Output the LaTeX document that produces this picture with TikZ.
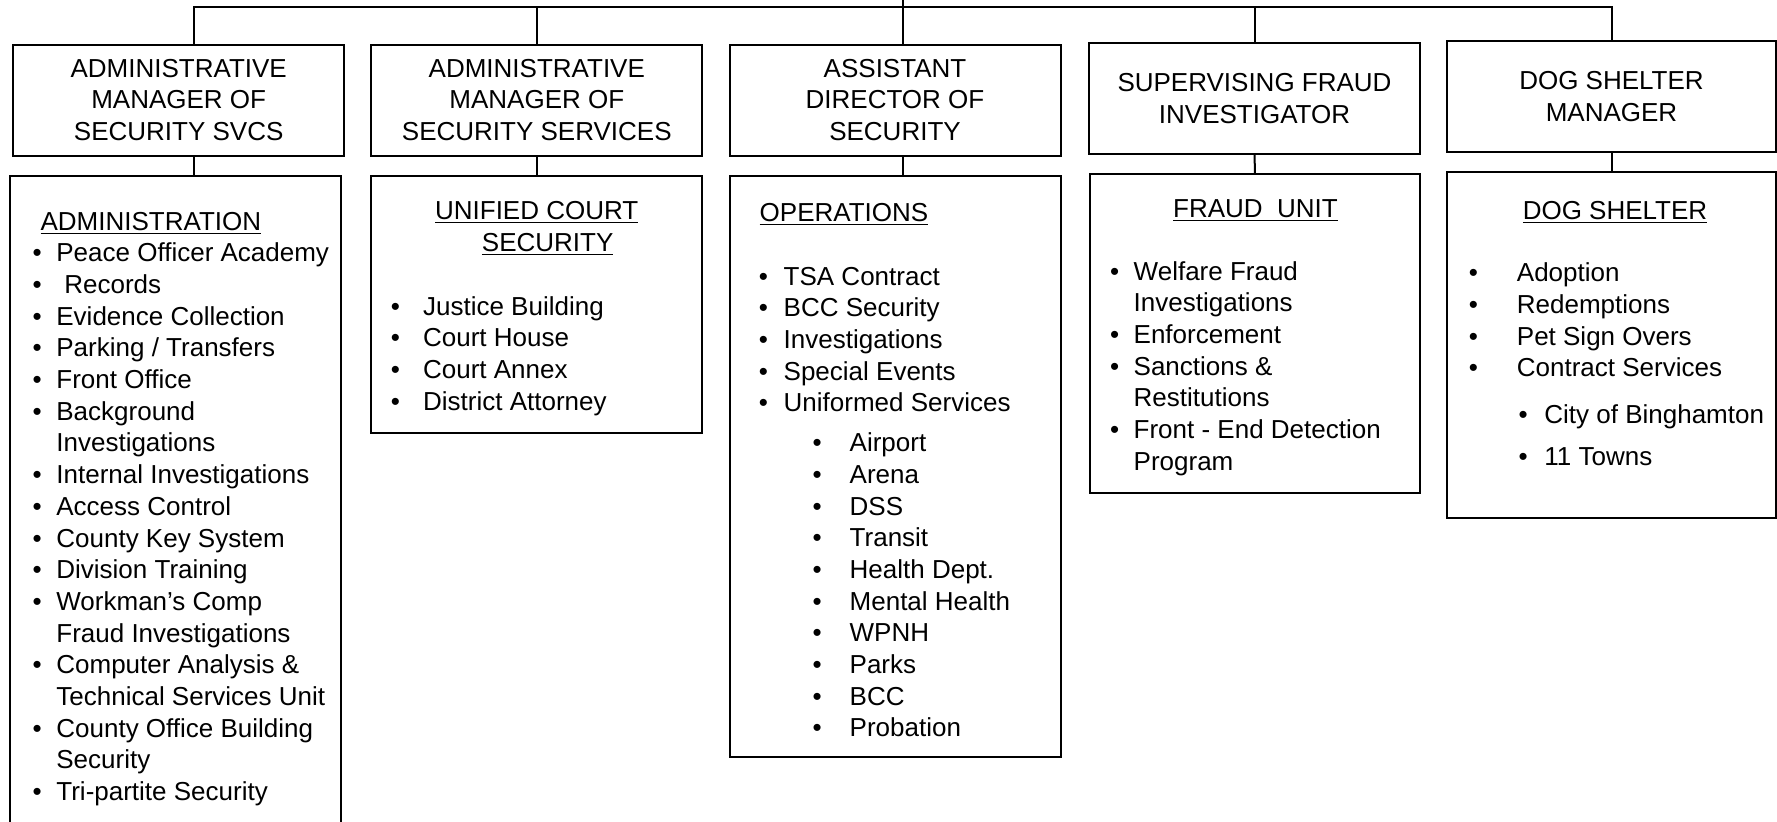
\documentclass[tikz,border=0pt]{standalone}
\usepackage{fontspec}
\setmainfont{Liberation Sans}
\usetikzlibrary{positioning,calc}

\newcommand{\itm}[2]{\makebox[#1][l]{\textbullet}#2}

\begin{document}
\begin{tikzpicture}[x=0.5pt,y=-0.5pt,font=\fontsize{13pt}{15.85pt}\selectfont,
    post/.style={draw,line width=1pt,inner sep=0pt,outer sep=0pt,align=center,minimum width=165.5pt,minimum height=55.5pt},
    unit/.style={draw,line width=1pt,inner sep=0pt,outer sep=0pt,minimum width=165.5pt},
    title/.style={anchor=base,align=center,inner sep=0pt},
    list/.style={anchor=base west,align=left,inner sep=0pt},
    link/.style={line width=1pt}]
      \useasboundingbox (0,0) rectangle (1777,821);
      \clip (0,0) rectangle (1777,821);
      \coordinate (top) at (903.4,0);
      \coordinate (bus) at (903.4,7);
      \coordinate (d1) at (193.5,7);
      \node[post] (m1) at (178.7,100) {ADMINISTRATIVE\\MANAGER OF\\SECURITY SVCS};
      \node[post] (m2) at (536.8,100) {ADMINISTRATIVE\\MANAGER OF\\SECURITY SERVICES};
      \node[post] (m3) at (895,100) {ASSISTANT\\DIRECTOR OF\\SECURITY};
      \node[post] (m4) at (1254.5,98.7) {SUPERVISING FRAUD\\INVESTIGATOR};
      \node[post,minimum width=164.5pt] (m5) at (1611.5,96.5) {DOG SHELTER\\MANAGER};
      \node[unit,minimum height=362pt] (u1) at (175.5,538) {};
      \node[unit,minimum height=128.3pt] (u2) at (536.8,304.3) {};
      \node[unit,minimum height=290.5pt] (u3) at (895,466.5) {};
      \node[unit,minimum width=165pt,minimum height=159.4pt] (u4) at (1255,333.3) {};
      \node[unit,minimum width=164.5pt,minimum height=173pt] (u5) at (1611.5,345) {};
      \draw[link] (top) -- (bus);
      \draw[link] (m1.north -| d1) |- (bus) -| (m5.north);
      \draw[link] (m2.north) -- (m2.north |- bus);
      \draw[link] (m3.north -| top) -- (bus);
      \draw[link] (m4.north) -- (m4.north |- bus);
      \draw[link] (m1.south -| d1) -- (u1.north -| d1);
      \draw[link] (m2.south) -- (u2.north);
      \draw[link] (m3.south -| top) -- (u3.north -| top);
      \draw[link] (m4.south) -- (u4.north);
      \draw[link] (m5.south) -- (u5.north);
      \node[list] (a1) at (32.2,800.6) {\hspace*{4pt}\underline{ADMINISTRATION}\\
        \itm{11.9pt}{Peace Officer Academy}\\
        \itm{11.9pt}{\hspace*{4pt}Records}\\
        \itm{11.9pt}{Evidence Collection}\\
        \itm{11.9pt}{Parking / Transfers}\\
        \itm{11.9pt}{Front Office}\\
        \itm{11.9pt}{Background}\\
        \hspace*{11.9pt}Investigations\\
        \itm{11.9pt}{Internal Investigations}\\
        \itm{11.9pt}{Access Control}\\
        \itm{11.9pt}{County Key System}\\
        \itm{11.9pt}{Division Training}\\
        \itm{11.9pt}{Workman’s Comp}\\
        \hspace*{11.9pt}Fraud Investigations\\
        \itm{11.9pt}{Computer Analysis \&}\\
        \hspace*{11.9pt}Technical Services Unit\\
        \itm{11.9pt}{County Office Building}\\
        \hspace*{11.9pt}Security\\
        \itm{11.9pt}{Tri-partite Security}};
      \node[title] (c2) at (536.7,251) {\underline{UNIFIED COURT}\\\hspace*{11pt}\underline{SECURITY}};
      \node[list] (a2) at (390.5,410.1) {\itm{16.1pt}{Justice Building}\\
        \itm{16.1pt}{Court House}\\
        \itm{16.1pt}{Court Annex}\\
        \itm{16.1pt}{District Attorney}};
      \node[list] (a3) at (758.5,736.9) {\hspace*{0.4pt}\underline{OPERATIONS}\\[15.85pt]
        \itm{12.4pt}{TSA Contract}\\
        \itm{12.4pt}{BCC Security}\\
        \itm{12.4pt}{Investigations}\\
        \itm{12.4pt}{Special Events}\\
        \itm{12.4pt}{Uniformed Services}\\[4pt]
        \hspace*{26.85pt}\itm{18.55pt}{Airport}\\
        \hspace*{26.85pt}\itm{18.55pt}{Arena}\\
        \hspace*{26.85pt}\itm{18.55pt}{DSS}\\
        \hspace*{26.85pt}\itm{18.55pt}{Transit}\\
        \hspace*{26.85pt}\itm{18.55pt}{Health Dept.}\\
        \hspace*{26.85pt}\itm{18.55pt}{Mental Health}\\
        \hspace*{26.85pt}\itm{18.55pt}{WPNH}\\
        \hspace*{26.85pt}\itm{18.55pt}{Parks}\\
        \hspace*{26.85pt}\itm{18.55pt}{BCC}\\
        \hspace*{26.85pt}\itm{18.55pt}{Probation}};
      \node[title] (c4) at (1255.5,217) {\underline{FRAUD\ \ UNIT}};
      \node[list] (a4) at (1109.8,470.2) {\itm{11.75pt}{Welfare Fraud}\\
        \hspace*{11.75pt}Investigations\\
        \itm{11.75pt}{Enforcement}\\
        \itm{11.75pt}{Sanctions \&}\\
        \hspace*{11.75pt}Restitutions\\
        \itm{11.75pt}{Front - End Detection}\\
        \hspace*{11.75pt}Program};
      \node[title] (c5) at (1615,219) {\underline{DOG SHELTER}};
      \node[list] (a5) at (1468.5,465.5) {\itm{24pt}{Adoption}\\
        \itm{24pt}{Redemptions}\\
        \itm{24pt}{Pet Sign Overs}\\
        \itm{24pt}{Contract Services}\\[7.2pt]
        \hspace*{24.85pt}\itm{12.9pt}{City of Binghamton}\\[5.4pt]
        \hspace*{24.85pt}\itm{12.9pt}{11 Towns}};
    \end{tikzpicture}
\end{document}
